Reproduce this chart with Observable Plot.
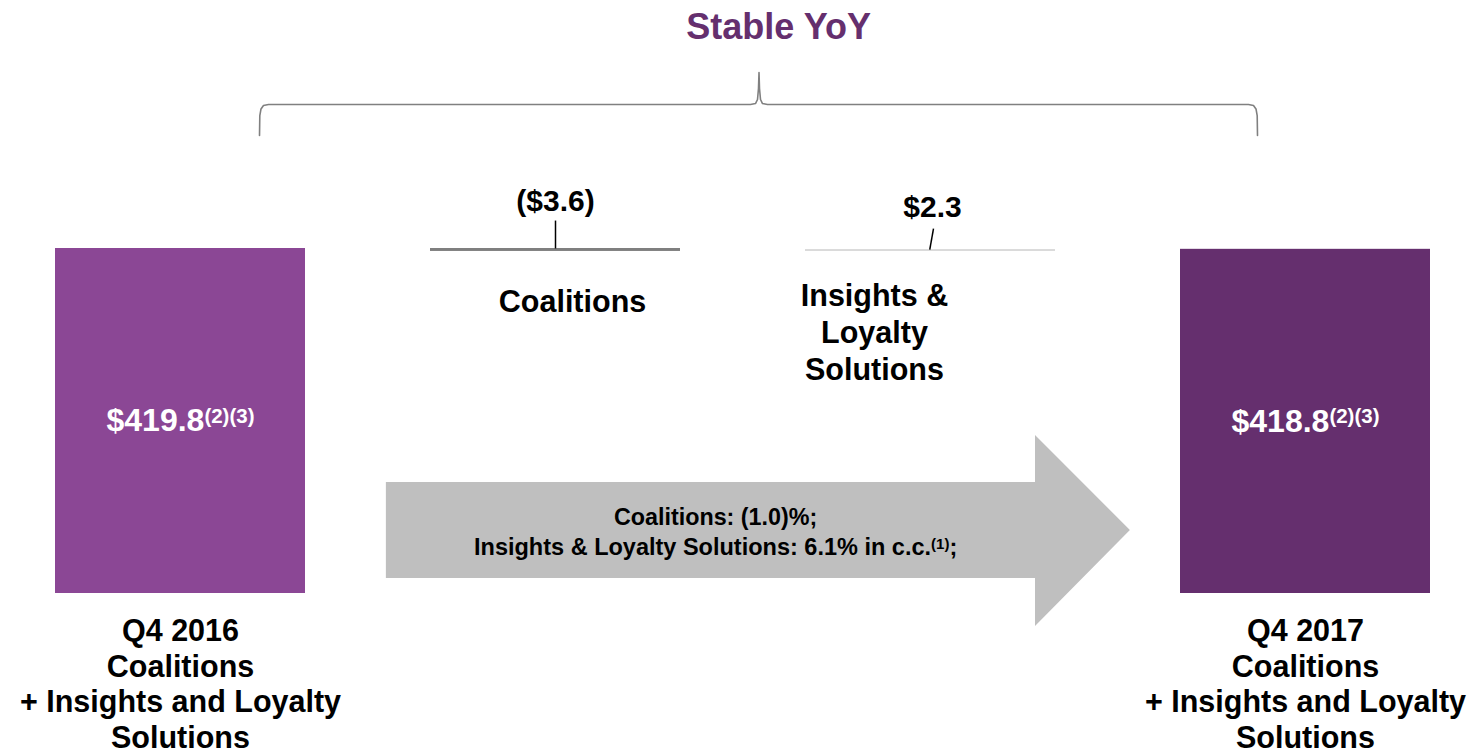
<!DOCTYPE html>
<html>
<head>
<meta charset="utf-8">
<script src="https://cdn.jsdelivr.net/npm/d3@7"></script>
<script src="https://cdn.jsdelivr.net/npm/@observablehq/plot@0.6"></script>
<style>
  html, body { margin: 0; padding: 0; background: #fff; }
  #chart svg { display: block; }
</style>
</head>
<body>
<div id="chart"></div>
<script>
// ---------- data ----------
const title = "Stable YoY";
const categories = ["Q4 2016", "Coalitions", "Insights & Loyalty Solutions", "Q4 2017"];
const values = [419.8, -3.6, 2.3, 418.8];
const kinds = ["total", "change", "change", "total"];
const valueLabels = ["$419.8", "($3.6)", "$2.3", "$418.8"];
const valueFootnotes = ["(2)(3)", "", "", "(2)(3)"];
const categoryLabels = [
  "Q4 2016\nCoalitions\n+ Insights and Loyalty\nSolutions",
  "Coalitions",
  "Insights &\nLoyalty\nSolutions",
  "Q4 2017\nCoalitions\n+ Insights and Loyalty\nSolutions"
];
const growthLines = ["Coalitions: (1.0)%;", "Insights & Loyalty Solutions: 6.1% in c.c."];
const growthFootnote = "(1)";
const growthTail = ";";

// ---------- styles ----------
const barColors = ["#8B4795", "#7F7F7F", "#D9D9D9", "#652F6E"];
const titleColor = "#652F6E";
const arrowColor = "#BFBFBF";
const braceColor = "#808080";
const font = "'Liberation Sans', Arial, Helvetica, sans-serif";
const halfBar = 1 / 3;

// annotation geometry (in chart data units)
const arrowShape = [
  {x: 0.549, y1: 18.3, y2: 135.1},
  {x: 2.28, y1: 18.3, y2: 135.1},
  {x: 2.28, y1: -40.2, y2: 192.3},
  {x: 2.533, y1: 76.7, y2: 76.7}
];
const arrowTextX = 1.427, arrowMid = 76.7;
const braceShape = [
  [0.2107, 557.3], [0.2115, 581.6], [0.2147, 589.6], [0.2213, 593.8], [0.2347, 595.0],
  [1.5200, 595.0], [1.5333, 596.2], [1.5387, 601.1], [1.5413, 614.5], [1.5427, 634.0],
  [1.5440, 614.5], [1.5467, 601.1], [1.5520, 596.2], [1.5653, 595.0],
  [2.8480, 595.0], [2.8613, 593.8], [2.8680, 589.6], [2.8712, 581.6], [2.8720, 557.3]
].map(([x, y]) => ({x, y}));
const titlePos = {x: 1.595, y: 675};
const leaders = [
  {i: 1, topShift: 0, bottomShift: 0, len: 34},
  {i: 2, topShift: 0.008, bottomShift: -0.002, len: 25.5}
];

// ---------- waterfall rows ----------
let running = 0;
const rows = categories.map((c, i) => {
  const v = values[i];
  let a, b;
  if (kinds[i] === "total") { a = 0; b = v; running = v; }
  else { a = running; b = running + v; running = b; }
  return {
    i, category: c, value: v, kind: kinds[i],
    lo: Math.min(a, b), hi: Math.max(a, b),
    label: valueLabels[i], note: valueFootnotes[i], catLabel: categoryLabels[i]
  };
});
const totals = rows.filter(d => d.kind === "total");
const changes = rows.filter(d => d.kind === "change");
const leaderRows = leaders.map(l => ({...l, hi: rows[l.i].hi}));

const boldText = {fontWeight: "bold", fill: "#000"};

// ---------- plot ----------
const chart = Plot.plot({
  width: 1476,
  height: 756,
  margin: 0,
  style: {fontFamily: font, background: "#fff", overflow: "visible"},
  x: {type: "linear", domain: [0, 3], range: [180, 1305], axis: null},
  y: {type: "linear", domain: [0, 419.8], range: [593, 248], axis: null},
  marks: [
    // growth arrow
    Plot.areaY(arrowShape, {x: "x", y1: "y1", y2: "y2", fill: arrowColor, curve: "linear"}),
    // waterfall bars
    Plot.rect(rows, {
      x1: d => d.i - halfBar, x2: d => d.i + halfBar,
      y1: "lo", y2: "hi",
      fill: d => barColors[d.i]
    }),
    // leader lines for change labels
    Plot.link(leaderRows, {
      x1: d => d.i + d.topShift, y1: d => d.hi + d.len,
      x2: d => d.i + d.bottomShift, y2: "hi",
      stroke: "#000", strokeWidth: 1.5
    }),
    // change value labels
    Plot.text(changes.filter(d => d.i === 1), {
      x: "i", y: "hi", text: "label", lineAnchor: "bottom", dy: -38,
      fontSize: 30, ...boldText
    }),
    Plot.text(changes.filter(d => d.i === 2), {
      x: "i", y: "hi", text: "label", lineAnchor: "bottom", dx: 2, dy: -33,
      fontSize: 30, ...boldText
    }),
    // total value labels inside bars
    Plot.text(totals, {
      x: "i", y: d => d.hi / 2, text: d => d.label + (d.note ? "{" + d.note + "}" : ""),
      lineAnchor: "middle", dy: 0,
      fontSize: 32, fontWeight: "bold", fill: "#fff"
    }),
    // change category labels
    Plot.text(changes.filter(d => d.i === 1), {
      x: "i", y: "hi", text: "catLabel", lineAnchor: "top", dx: 17, dy: 37,
      fontSize: 30.5, lineHeight: 1.22, ...boldText
    }),
    Plot.text(changes.filter(d => d.i === 2), {
      x: "i", y: "hi", text: "catLabel", lineAnchor: "top", dx: -56, dy: 30,
      fontSize: 30.5, lineHeight: 1.22, ...boldText
    }),
    // total category labels under bars
    Plot.text(totals, {
      x: "i", y: "lo", text: "catLabel", lineAnchor: "top", dy: 22,
      fontSize: 30.5, lineHeight: 1.17, ...boldText
    }),
    // arrow text
    Plot.text([growthLines[0]], {
      x: () => arrowTextX, y: () => arrowMid, text: d => d,
      lineAnchor: "bottom", dy: -5, fontSize: 23.3, ...boldText
    }),
    Plot.text([growthLines[1] + "{" + growthFootnote + "}" + growthTail], {
      x: () => arrowTextX, y: () => arrowMid, text: d => d,
      lineAnchor: "bottom", dy: 25, fontSize: 23.5, ...boldText
    }),
    // brace
    Plot.line(braceShape, {x: "x", y: "y", stroke: braceColor, strokeWidth: 1.6, curve: "linear"}),
    // title
    Plot.text([title], {
      x: () => titlePos.x, y: () => titlePos.y, text: d => d,
      lineAnchor: "bottom", fontSize: 36, fontWeight: "bold", fill: titleColor
    })
  ]
});

document.getElementById("chart").appendChild(chart);

// superscript footnote markers: text in {...} is raised and reduced
chart.querySelectorAll("text").forEach(t => {
  const targets = t.querySelector("tspan") ? [...t.querySelectorAll("tspan")] : [t];
  targets.forEach(el => {
    const s = el.textContent;
    if (!s.includes("{")) return;
    const fs = parseFloat(getComputedStyle(el).fontSize) || 20;
    const shift = 0.27 * fs;
    const parts = s.split(/(\{[^}]*\})/).filter(p => p.length);
    el.textContent = "";
    let raised = false;
    parts.forEach(p => {
      const ts = document.createElementNS("http://www.w3.org/2000/svg", "tspan");
      if (p.startsWith("{")) {
        ts.textContent = p.slice(1, -1);
        ts.setAttribute("font-size", (0.64 * fs).toFixed(1));
        ts.setAttribute("dy", (-shift).toFixed(1));
        raised = true;
      } else {
        ts.textContent = p;
        if (raised) { ts.setAttribute("dy", shift.toFixed(1)); raised = false; }
      }
      el.appendChild(ts);
    });
  });
});
</script>
</body>
</html>
